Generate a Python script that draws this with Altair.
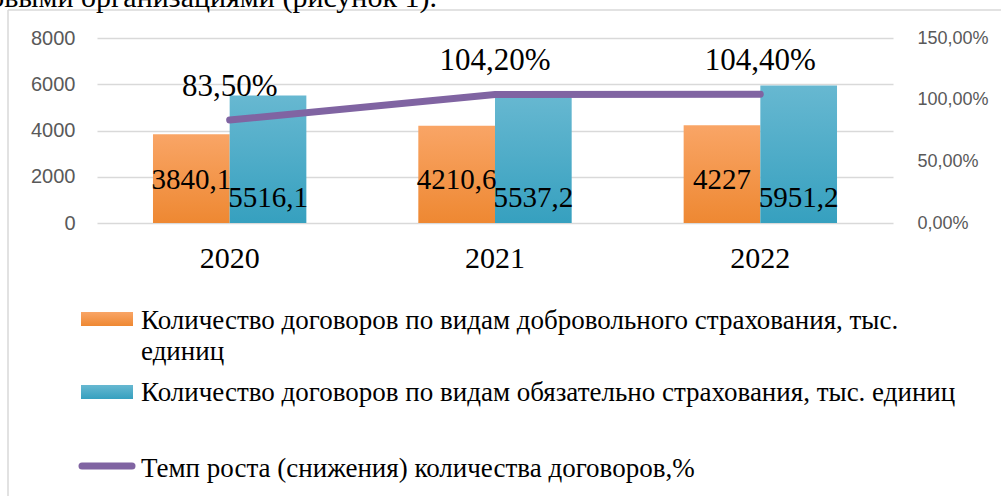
import altair as alt
import pandas as pd

# ---- data ----
years = ["2020", "2021", "2022"]
voluntary = [3840.1, 4210.6, 4227]
mandatory = [5516.1, 5537.2, 5951.2]
growth = [83.5, 104.2, 104.4]
series_keys = ["vol", "mand"]
legend_texts = [
    ["Количество договоров по видам добровольного страхования, тыс.", "единиц"],
    "Количество договоров по видам обязательно страхования, тыс. единиц",
    "Темп роста (снижения) количества договоров,%",
]
left_ticks = [0, 2000, 4000, 6000, 8000]
right_ticks = [0, 50, 100, 150]
header_text = "страховыми организациями (рисунок 1)."

# ---- tables ----
rows = []
for y, v in zip(years, voluntary):
    rows.append({"year": y, "series": "vol", "value": v})
for y, v in zip(years, mandatory):
    rows.append({"year": y, "series": "mand", "value": v})
bars_df = pd.DataFrame(rows)
line_df = pd.DataFrame({"year": years, "growth": growth})
dummy = pd.DataFrame({"a": [0]})

SERIF = "Liberation Serif"
SANS = "Liberation Sans"

orange_grad = {"gradient": "linear", "x1": 0, "x2": 0, "y1": 0, "y2": 1,
               "stops": [{"offset": 0, "color": "#F9A566"}, {"offset": 1, "color": "#EE8832"}]}
blue_grad = {"gradient": "linear", "x1": 0, "x2": 0, "y1": 0, "y2": 1,
             "stops": [{"offset": 0, "color": "#67B8D1"}, {"offset": 1, "color": "#36A0BF"}]}

x_axis = alt.X("year:N", sort=years, title=None,
               scale=alt.Scale(paddingInner=0, paddingOuter=0),
               axis=alt.Axis(labelAngle=0, domain=False, ticks=False, tickSize=0,
                             labelFont=SERIF, labelFontSize=30, labelColor="#000000",
                             labelPadding=20, grid=False))
x_plain = alt.X("year:N", sort=years, title=None)
xoff_main = alt.XOffset("series:N", sort=series_keys,
                        scale=alt.Scale(domain=series_keys, paddingOuter=0.73, paddingInner=0))
xoff_plain = alt.XOffset("series:N", sort=series_keys)

y_left = alt.Y("value:Q", title=None, scale=alt.Scale(domain=[0, 8000], nice=False),
               axis=alt.Axis(values=left_ticks, format="d", domain=False,
                             ticks=False, tickSize=0, labelPadding=22,
                             labelFont=SANS, labelFontSize=20, labelColor="#595959",
                             grid=True, gridColor="#D9D9D9", gridWidth=1.5))
y_left_plain = alt.Y("value:Q", title=None)
y_zero = alt.Y("zero:Q", title=None)

base = alt.Chart(bars_df)

bar_vol = base.transform_filter("datum.series == 'vol'").mark_bar(color=orange_grad).encode(
    x=x_axis, xOffset=xoff_main, y=y_left)
bar_mand = base.transform_filter("datum.series == 'mand'").mark_bar(color=blue_grad).encode(
    x=x_plain, xOffset=xoff_plain, y=y_left_plain)

lab_expr = "replace(toString(datum.value), '.', ',')"
lab_vol = base.transform_filter("datum.series == 'vol'").transform_calculate(
    lab=lab_expr, zero="0").mark_text(font=SERIF, fontSize=29, color="#000000",
                                     baseline="alphabetic", dy=-34).encode(
    x=x_plain, xOffset=xoff_plain, y=y_zero, text="lab:N")
lab_mand = base.transform_filter("datum.series == 'mand'").transform_calculate(
    lab=lab_expr, zero="0").mark_text(font=SERIF, fontSize=29, color="#000000",
                                     baseline="alphabetic", dy=-16).encode(
    x=x_plain, xOffset=xoff_plain, y=y_zero, text="lab:N")

left = alt.layer(bar_vol, bar_mand, lab_vol, lab_mand)

y_right = alt.Y("growth:Q", title=None, scale=alt.Scale(domain=[0, 150], nice=False),
                axis=alt.Axis(orient="right", values=right_ticks,
                              labelExpr="replace(format(datum.value, '.2f'), '.', ',') + '%'",
                              domain=False, ticks=False, tickSize=0, labelPadding=24, grid=False,
                              labelFont=SANS, labelFontSize=18, labelColor="#595959"))
line = alt.Chart(line_df).mark_line(color="#8064A2", strokeWidth=7, strokeCap="round").encode(
    x=x_plain, y=y_right)
pct = alt.Chart(line_df).transform_calculate(
    lab="replace(format(datum.growth, '.2f'), '.', ',') + '%'"
).mark_text(font=SERIF, fontSize=31, color="#000000", baseline="alphabetic", dy=-24).encode(
    x=x_plain, y=alt.Y("growth:Q", title=None), text="lab:N")
right = alt.layer(line, pct)

# ---- decorations: frame, header fragment, legend ----
d = alt.Chart(dummy)
frame_top = d.mark_rule(color="#D9D9D9", strokeWidth=1.5).encode(
    x=alt.value(-89), x2=alt.value(910), y=alt.value(-28))
frame_left = d.mark_rule(color="#D9D9D9", strokeWidth=1.5).encode(
    x=alt.value(-89), y=alt.value(-28), y2=alt.value(460))
header = d.mark_text(font=SERIF, fontSize=30, color="#000000", align="right",
                     baseline="alphabetic").encode(
    x=alt.value(340), y=alt.value(-31), text=alt.value(header_text))

sw1 = d.mark_rect(color=orange_grad).encode(
    x=alt.value(-16), x2=alt.value(36), y=alt.value(274), y2=alt.value(288))
sw2 = d.mark_rect(color=blue_grad).encode(
    x=alt.value(-16), x2=alt.value(36), y=alt.value(347), y2=alt.value(361))
sw3 = d.mark_rule(color="#8064A2", strokeWidth=7, strokeCap="round").encode(
    x=alt.value(-15), x2=alt.value(35), y=alt.value(428))
leg_kw = dict(font=SERIF, fontSize=27, color="#000000", align="left", baseline="alphabetic",
              lineHeight=31)
t1 = d.mark_text(**leg_kw).encode(x=alt.value(44), y=alt.value(291), text=alt.value(legend_texts[0]))
t2 = d.mark_text(**leg_kw).encode(x=alt.value(44), y=alt.value(363), text=alt.value(legend_texts[1]))
t3 = d.mark_text(**leg_kw).encode(x=alt.value(44), y=alt.value(439), text=alt.value(legend_texts[2]))

chart = alt.layer(
    left, right, frame_top, frame_left, header, sw1, sw2, sw3, t1, t2, t3
).resolve_scale(y="independent").properties(
    width=796, height=185,
    autosize=alt.AutoSizeParams(type="none"),
    padding={"left": 97, "top": 38, "right": 108, "bottom": 273},
    background="#FFFFFF",
).configure_view(stroke=None)

chart.save("out.html", embed_options={"renderer": "svg", "actions": False})
